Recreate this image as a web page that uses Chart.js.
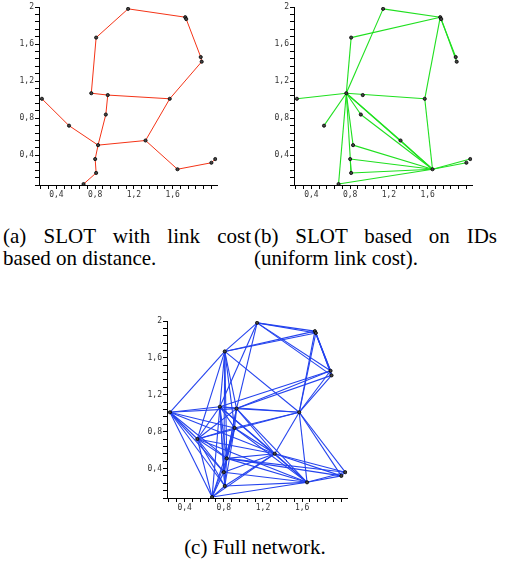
<!DOCTYPE html>
<html>
<head>
<meta charset="utf-8">
<script src="https://cdn.jsdelivr.net/npm/chart.js@4.4.1/dist/chart.umd.min.js"></script>
<style>
    body { margin: 0; background: #fff; width: 507px; height: 563px; position: relative; overflow: hidden; }
    canvas { position: absolute; }
    .cap { position: absolute; font-family: 'Liberation Serif', serif; font-size: 21px; color: #000; line-height: 22px; }
    .just { text-align: justify; text-align-last: justify; white-space: nowrap; }
</style>
</head>
<body>
<canvas id="chartA" width="222" height="205" style="left:0px;top:0px"></canvas>
<canvas id="chartB" width="222" height="205" style="left:255px;top:0px"></canvas>
<canvas id="chartC" width="224" height="205" style="left:128px;top:313px"></canvas>

<div class="cap" style="left:3px;top:225px;width:248px">
    <div class="just">(a) SLOT with link cost</div>
    <div>based on distance.</div>
</div>
<div class="cap" style="left:254px;top:225px;width:243px">
    <div class="just">(b) SLOT based on IDs</div>
    <div>(uniform link cost).</div>
</div>
<div class="cap" style="left:0px;top:536px;width:510px;text-align:center">(c) Full network.</div>

<script>
// node positions (same 20 nodes in every panel)
const nodeX = [1.14, 1.73, 1.74, 0.81, 1.89, 1.90, 0.76, 0.93, 1.57, 0.25, 0.91, 0.53, 0.83, 1.32, 0.80, 2.04, 2.00, 1.65, 0.81, 0.68];
const nodeY = [1.98, 1.89, 1.87, 1.67, 1.46, 1.41, 1.07, 1.05, 1.01, 1.01, 0.84, 0.72, 0.51, 0.56, 0.36, 0.36, 0.32, 0.25, 0.21, 0.09];

// links, by node number (1-based)
const edgesA = [[1,2],[2,3],[1,4],[3,5],[5,6],[6,9],[4,7],[7,8],[8,9],[8,11],[11,13],[10,12],[12,13],
    [13,14],[14,9],[13,15],[15,19],[19,20],[14,18],[18,17],[17,16]];

const edgesB = [[7,1],[7,4],[7,10],[7,12],[7,9],[7,20],[7,19],[7,13],[7,11],[7,18],[7,14],[11,18],[14,18],
    [9,18],[9,2],[4,2],[1,2],[2,3],[2,5],[3,6],[13,18],[15,18],[19,18],[20,18],[18,16],[18,17],[15,19]];

const edgesC = [[1,2],[1,3],[1,4],[1,5],[1,6],[1,7],[1,8],
    [2,3],[2,4],[3,4],[2,5],[3,6],[2,6],[3,5],[2,9],[3,9],
    [5,6],[5,9],[6,9],[5,7],[5,8],[6,8],
    [4,7],[4,8],[4,9],[4,10],[4,11],[4,12],[4,13],[4,15],
    [7,8],[7,9],[7,10],[7,11],[7,12],[7,13],[7,14],[7,15],[7,18],[7,19],[7,20],
    [8,9],[8,10],[8,11],[8,12],[8,13],[8,14],[8,15],[8,18],
    [9,11],[9,12],[9,14],[9,16],[9,17],[9,18],
    [10,11],[10,12],[10,13],[10,14],[10,15],[10,19],[10,20],
    [11,12],[11,13],[11,14],[11,15],[11,18],[11,19],[11,20],
    [12,13],[12,14],[12,15],[12,18],[12,19],[12,20],
    [13,14],[13,15],[13,16],[13,17],[13,18],[13,19],[13,20],
    [14,15],[14,16],[14,17],[14,18],[14,19],[14,20],
    [15,18],[15,19],[15,20],
    [16,17],[16,18],[17,18],
    [18,19],[18,20],[19,20]];

// axes
const xLabelTicks = [0.4, 0.8, 1.2, 1.6];
const yLabelTicks = [0.4, 0.8, 1.2, 1.6, 2.0];
const xRange = [0.22, 2.06];
const yRange = [0.08, 2.0];
const minorStep = 0.08;

function fmt(v) {
    if (Math.abs(v - 2) < 1e-6) return '2';
    return v.toFixed(1).replace('.', ',');
}

function minorTicks(min, max) {
    const out = [];
    let k = Math.ceil(min / minorStep - 1e-6);
    while (k * minorStep <= max + 1e-6) {
        out.push({ value: +(k * minorStep).toFixed(4) });
        k++;
    }
    return out;
}

function axis(range, labelled, fitFn) {
    return {
        type: 'linear',
        min: range[0],
        max: range[1],
        afterBuildTicks: scale => { scale.ticks = minorTicks(range[0], range[1]); },
        afterFit: fitFn,
        border: { display: true, color: '#000', width: 1 },
        grid: { drawOnChartArea: false, drawTicks: true, tickLength: 4, color: '#000' },
        ticks: {
            autoSkip: false,
            maxRotation: 0,
            padding: 1,
            color: '#333',
            font: { family: 'DejaVu Sans Mono', size: 8 },
            callback: v => labelled.some(t => Math.abs(t - v) < 1e-6) ? fmt(v) : ''
        }
    };
}

function drawNetwork(id, edges, color, width, padTop) {
    const nodes = nodeX.map((x, i) => ({ x: x, y: nodeY[i] }));
    const datasets = [{
        data: nodes,
        showLine: false,
        pointRadius: 1.6,
        pointBackgroundColor: '#444',
        pointBorderColor: '#000',
        pointBorderWidth: 0.8
    }];
    edges.forEach(e => {
        datasets.push({
            data: [nodes[e[0] - 1], nodes[e[1] - 1]],
            showLine: true,
            borderColor: color,
            borderWidth: width,
            pointRadius: 0,
            fill: false
        });
    });

    new Chart(document.getElementById(id), {
        type: 'scatter',
        data: { datasets: datasets },
        options: {
            responsive: false,
            animation: false,
            devicePixelRatio: 1,
            layout: { padding: { top: padTop, right: 4, left: 0, bottom: 0 } },
            plugins: { legend: { display: false }, tooltip: { enabled: false } },
            scales: {
                x: axis(xRange, xLabelTicks, s => { s.height = 20; }),
                y: axis(yRange, yLabelTicks, s => { s.width = 39; })
            }
        }
    });
}

drawNetwork('chartA', edgesA, '#f43417', 1, 7);
drawNetwork('chartB', edgesB, '#1fe01f', 1.1, 7);
drawNetwork('chartC', edgesC, '#2443ee', 1.1, 8);
</script>
</body>
</html>
